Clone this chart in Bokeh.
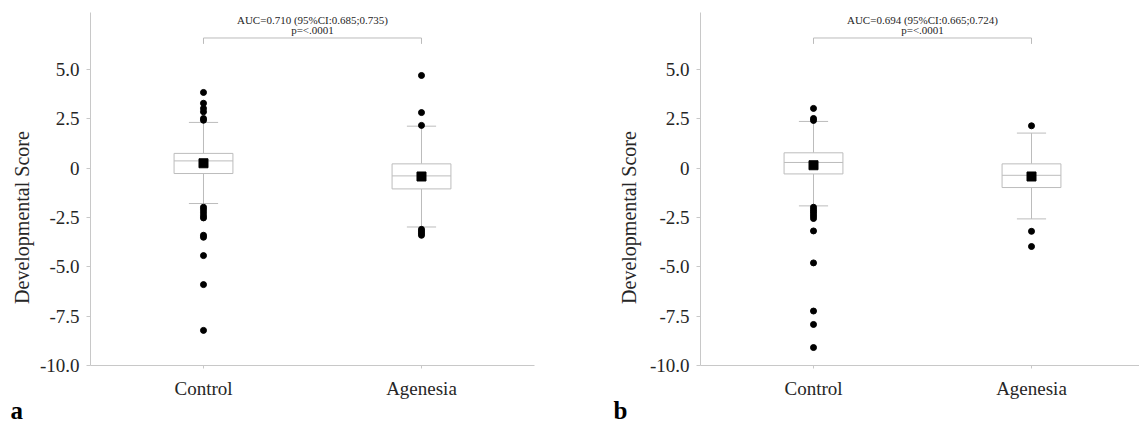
from bokeh.plotting import figure
from bokeh.layouts import row
from bokeh.models import Range1d, FixedTicker
from bokeh.core.properties import value
from bokeh.embed import file_html
from bokeh.resources import INLINE

# ---------------- data ----------------
categories = ["Control", "Agenesia"]
y_ticks = [-10.0, -7.5, -5.0, -2.5, 0.0, 2.5, 5.0]
y_tick_labels = ["-10.0", "-7.5", "-5.0", "-2.5", "0", "2.5", "5.0"]

# panel a
a_q1 = [-0.27, -1.05]
a_median = [0.37, -0.39]
a_q3 = [0.75, 0.22]
a_low = [-1.79, -2.98]
a_high = [2.32, 2.13]
a_mean = [0.25, -0.42]
a_out_control = [3.84, 3.29, 3.03, 2.86, 2.52, 2.43,
                 -1.98, -2.1, -2.25, -2.4, -2.52, -3.4, -3.5, -4.43, -5.9, -8.22]
a_out_agenesia = [4.7, 2.82, 2.17, -3.1, -3.2, -3.3, -3.4]
a_auc = "AUC=0.710 (95%CI:0.685;0.735)"
a_p = "p=<.0001"

# panel b
b_q1 = [-0.29, -0.98]
b_median = [0.29, -0.36]
b_q3 = [0.78, 0.22]
b_low = [-1.91, -2.57]
b_high = [2.37, 1.78]
b_mean = [0.15, -0.42]
b_out_control = [3.03, 2.52, 2.42,
                 -1.98, -2.1, -2.2, -2.3, -2.42, -2.55, -3.18, -4.8, -7.24, -7.92, -9.09]
b_out_agenesia = [2.15, -3.2, -3.97]
b_auc = "AUC=0.694 (95%CI:0.665;0.724)"
b_p = "p=<.0001"

y_title = "Developmental Score"

# ---------------- style / layout constants ----------------
SERIF = "Liberation Serif"
GRAY = "#bcbcbc"
AXIS_GRAY = "#c8c8c8"
TEXT = "#262626"
BOX_HALF = 0.135
CAP_HALF = 0.067
BRACKET_Y = 6.6
BRACKET_TIP = 6.3
AUC_Y = 7.53
P_Y = 7.01
Y_MIN, Y_AXIS_TOP = -10.0, 7.89
Y_VIEW = (-13.092, 8.50)          # whole canvas, axis drawn at Y_MIN
X_AXIS_START = 0.482
TITLE_Y = -2.5
LETTER_Y = -12.28


def panel(q1, med, q3, low, high, mean, out_c, out_a, auc, ptxt, letter,
          width, x_view, x_axis_end, title_x, letter_x):
    p = figure(width=width, height=426, output_backend="svg", toolbar_location=None,
               x_range=Range1d(*x_view), y_range=Range1d(*Y_VIEW),
               min_border_left=0, min_border_right=0,
               min_border_top=0, min_border_bottom=0)
    p.outline_line_color = None
    p.xgrid.visible = False
    p.ygrid.visible = False
    p.background_fill_color = "white"
    p.border_fill_color = "white"

    xs = [1, 2]
    # whiskers
    p.segment(x0=xs, y0=low, x1=xs, y1=q1, line_color=GRAY, line_width=1)
    p.segment(x0=xs, y0=q3, x1=xs, y1=high, line_color=GRAY, line_width=1)
    p.segment(x0=[x - CAP_HALF for x in xs], y0=low, x1=[x + CAP_HALF for x in xs], y1=low,
              line_color=GRAY, line_width=1)
    p.segment(x0=[x - CAP_HALF for x in xs], y0=high, x1=[x + CAP_HALF for x in xs], y1=high,
              line_color=GRAY, line_width=1)
    # boxes
    p.quad(left=[x - BOX_HALF for x in xs], right=[x + BOX_HALF for x in xs],
           bottom=q1, top=q3, fill_color="white", line_color=GRAY, line_width=1)
    p.segment(x0=[x - BOX_HALF for x in xs], y0=med, x1=[x + BOX_HALF for x in xs], y1=med,
              line_color=GRAY, line_width=1)
    # outliers
    p.scatter(x=[1] * len(out_c), y=out_c, size=6, color="black", marker="circle")
    p.scatter(x=[2] * len(out_a), y=out_a, size=6, color="black", marker="circle")
    # means
    p.scatter(x=xs, y=mean, size=9, color="black", marker="square")

    # bracket
    p.line(x=[1, 1, 2, 2], y=[BRACKET_TIP, BRACKET_Y, BRACKET_Y, BRACKET_TIP],
           line_color=GRAY, line_width=1)
    p.text(x=[1.5, 1.5], y=[AUC_Y, P_Y], text=[auc, ptxt], text_align="center",
           text_baseline="middle", text_font=value(SERIF), text_font_size="11px",
           text_color=TEXT)

    # axes (pinned at the data edges, drawn only over their bounds)
    p.xaxis.fixed_location = Y_MIN
    p.yaxis.fixed_location = X_AXIS_START
    p.xaxis.bounds = (X_AXIS_START, x_axis_end)
    p.yaxis.bounds = (Y_MIN, Y_AXIS_TOP)
    p.xaxis.ticker = FixedTicker(ticks=xs)
    p.xaxis.major_label_overrides = {1: categories[0], 2: categories[1]}
    p.yaxis.ticker = FixedTicker(ticks=y_ticks)
    p.yaxis.major_label_overrides = {t: l for t, l in zip(y_ticks, y_tick_labels)}
    for ax in (p.xaxis, p.yaxis):
        ax.axis_line_color = AXIS_GRAY
        ax.major_tick_line_color = AXIS_GRAY
        ax.major_tick_out = 4
        ax.major_tick_in = 0
        ax.minor_tick_line_color = None
        ax.major_label_text_font = SERIF
        ax.major_label_text_font_size = "19px"
        ax.major_label_text_color = TEXT
    p.xaxis.major_tick_out = 3
    p.xaxis.major_label_standoff = 10
    p.yaxis.major_label_standoff = 7

    # y axis title, centred on the tick span
    p.text(x=[title_x], y=[TITLE_Y], text=[y_title], angle=1.5708, text_align="center",
           text_baseline="middle", text_font=value(SERIF), text_font_size="20px",
           text_color=TEXT)
    # panel letter
    p.text(x=[letter_x], y=[LETTER_Y], text=[letter], text_align="left",
           text_baseline="alphabetic", text_font=value(SERIF), text_font_size="25px",
           text_font_style="bold", text_color="black")
    return p


pa = panel(a_q1, a_median, a_q3, a_low, a_high, a_mean, a_out_control, a_out_agenesia,
           a_auc, a_p, "a", 580, (0.0688, 2.7294), 2.518, 0.1697, 0.1147)
pb = panel(b_q1, b_median, b_q3, b_low, b_high, b_mean, b_out_control, b_out_agenesia,
           b_auc, b_p, "b", 559, (-0.0688, 2.4954), 2.4954, 0.1514, 0.0826)

layout = row(pa, pb)
open("out.html", "w").write(file_html(layout, INLINE))
